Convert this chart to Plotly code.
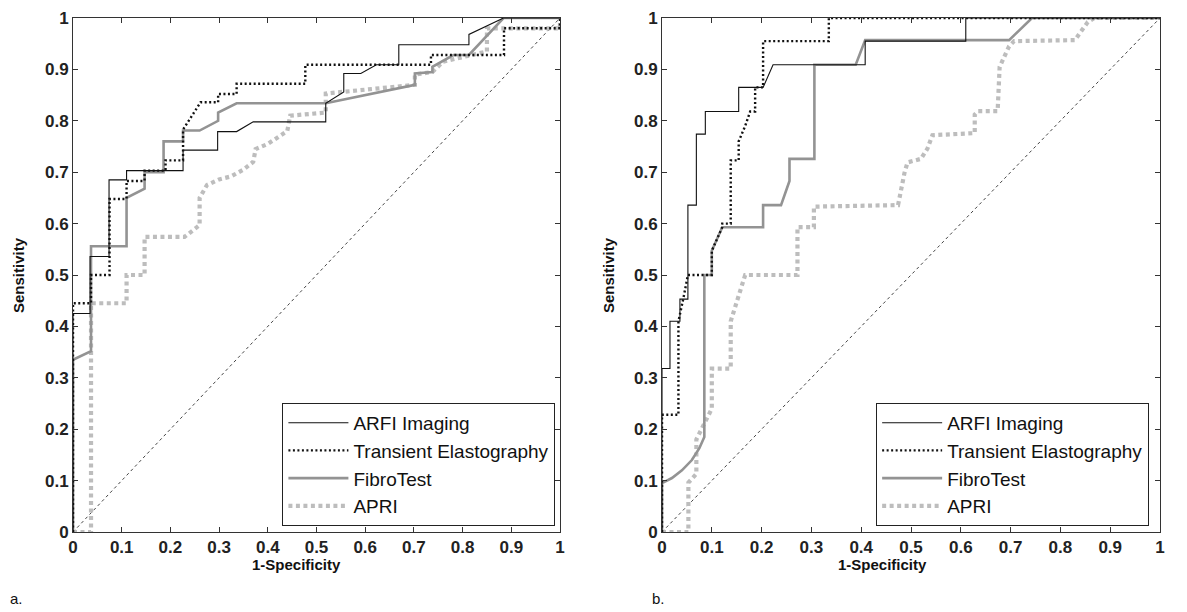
import plotly.graph_objects as go

# page body has an 8px margin, so the figure is drawn 8px smaller and all pixel positions are shifted by 8
OFF = 8
W, H = 1187 - OFF, 612 - OFF

# ---------------- data ----------------
series_names = ["ARFI Imaging", "Transient Elastography", "FibroTest", "APRI"]

# panel a
arfi_a_x = [0, 0, 0.035, 0.035, 0.074, 0.074, 0.11, 0.11, 0.226, 0.226, 0.297, 0.297, 0.336, 0.37, 0.519, 0.519,
            0.556, 0.556, 0.591, 0.623, 0.669, 0.669, 0.813, 0.813, 0.884, 1.0]
arfi_a_y = [0, 0.425, 0.425, 0.536, 0.536, 0.685, 0.685, 0.703, 0.703, 0.743, 0.743, 0.779, 0.779, 0.798, 0.798, 0.834,
            0.856, 0.892, 0.892, 0.909, 0.909, 0.948, 0.948, 0.968, 1.0, 1.0]

te_a_x = [0, 0, 0.037, 0.037, 0.075, 0.075, 0.11, 0.11, 0.147, 0.147, 0.19, 0.19, 0.226, 0.226, 0.262, 0.298, 0.298,
          0.336, 0.336, 0.477, 0.477, 0.735, 0.735, 0.885, 0.885, 1.0, 1.0]
te_a_y = [0, 0.445, 0.445, 0.5, 0.5, 0.648, 0.648, 0.683, 0.683, 0.703, 0.703, 0.723, 0.723, 0.783, 0.836, 0.836, 0.852,
          0.852, 0.872, 0.872, 0.909, 0.909, 0.928, 0.928, 0.98, 0.98, 1.0]

ft_a_x = [0, 0, 0.037, 0.037, 0.11, 0.11, 0.147, 0.147, 0.186, 0.186, 0.226, 0.226, 0.26, 0.298, 0.298, 0.336, 0.519,
          0.702, 0.702, 0.738, 0.738, 0.781, 0.813, 0.884, 1.0]
ft_a_y = [0, 0.335, 0.352, 0.556, 0.556, 0.65, 0.668, 0.70, 0.70, 0.76, 0.76, 0.781, 0.781, 0.80, 0.816, 0.834, 0.834,
          0.870, 0.892, 0.895, 0.905, 0.928, 0.928, 1.0, 1.0]

apri_a_x = [0, 0.037, 0.037, 0.11, 0.11, 0.147, 0.147, 0.229, 0.26, 0.26, 0.275, 0.30, 0.325, 0.35, 0.37, 0.375, 0.40,
            0.425, 0.44, 0.446, 0.519, 0.519, 0.702, 0.702, 0.738, 0.76, 0.813, 0.85, 0.85, 1.0, 1.0]
apri_a_y = [0, 0, 0.445, 0.445, 0.5, 0.5, 0.574, 0.574, 0.597, 0.65, 0.675, 0.686, 0.692, 0.705, 0.72, 0.745, 0.755,
            0.77, 0.78, 0.81, 0.816, 0.853, 0.87, 0.89, 0.895, 0.915, 0.928, 0.935, 0.98, 0.98, 1.0]

# panel b
arfi_b_x = [0, 0, 0.016, 0.016, 0.036, 0.036, 0.052, 0.052, 0.069, 0.069, 0.087, 0.087, 0.154, 0.154, 0.203, 0.223,
            0.408, 0.408, 0.61, 0.61, 1.0]
arfi_b_y = [0, 0.318, 0.318, 0.41, 0.41, 0.453, 0.453, 0.636, 0.636, 0.774, 0.774, 0.818, 0.818, 0.865, 0.865, 0.909,
            0.909, 0.955, 0.955, 1.0, 1.0]

te_b_x = [0, 0, 0.033, 0.033, 0.043, 0.052, 0.077, 0.1, 0.1, 0.121, 0.121, 0.138, 0.138, 0.154, 0.154, 0.167, 0.177,
          0.187, 0.187, 0.203, 0.203, 0.335, 0.335, 1.0]
te_b_y = [0, 0.228, 0.228, 0.41, 0.455, 0.5, 0.5, 0.5, 0.547, 0.593, 0.6, 0.6, 0.723, 0.723, 0.76, 0.79, 0.818, 0.818,
          0.865, 0.865, 0.955, 0.955, 1.0, 1.0]

ft_b_x = [0, 0, 0.02, 0.04, 0.06, 0.075, 0.085, 0.085, 0.1, 0.1, 0.121, 0.203, 0.203, 0.239, 0.256, 0.256, 0.306, 0.306,
          0.389, 0.408, 0.697, 0.743, 1.0]
ft_b_y = [0, 0.095, 0.105, 0.12, 0.14, 0.163, 0.185, 0.5, 0.5, 0.547, 0.593, 0.593, 0.636, 0.636, 0.683, 0.726, 0.726,
          0.909, 0.909, 0.957, 0.957, 1.0, 1.0]

apri_b_x = [0, 0.053, 0.053, 0.069, 0.069, 0.092, 0.1, 0.1, 0.138, 0.138, 0.154, 0.167, 0.272, 0.272, 0.305, 0.305,
            0.474, 0.48, 0.487, 0.493, 0.52, 0.533, 0.543, 0.628, 0.628, 0.635, 0.674, 0.678, 0.697, 0.707, 0.829,
            0.855, 0.868, 1.0]
apri_b_y = [0, 0, 0.096, 0.113, 0.18, 0.228, 0.24, 0.318, 0.318, 0.41, 0.457, 0.5, 0.5, 0.593, 0.593, 0.633, 0.636,
            0.666, 0.699, 0.719, 0.726, 0.746, 0.772, 0.776, 0.812, 0.819, 0.819, 0.905, 0.945, 0.955, 0.957, 0.992,
            1.0, 1.0]

chance_x = [0, 1]
chance_y = [0, 1]

tick_vals = [0, 0.1, 0.2, 0.3, 0.4, 0.5, 0.6, 0.7, 0.8, 0.9, 1]
tick_text = ["0", "0.1", "0.2", "0.3", "0.4", "0.5", "0.6", "0.7", "0.8", "0.9", "1"]
x_title = "1-Specificity"
y_title = "Sensitivity"
panel_labels = ["a.", "b."]

# ---------------- styling ----------------
styles = {
    "ARFI Imaging": dict(color="#111111", width=1.1, dash="solid"),
    "Transient Elastography": dict(color="#111111", width=2.4, dash="2px,2.5px"),
    "FibroTest": dict(color="#939393", width=2.6, dash="solid"),
    "APRI": dict(color="#bdbdbd", width=4.2, dash="4px,3.5px"),
}
draw_order = ["APRI", "FibroTest", "Transient Elastography", "ARFI Imaging"]


def px_x(p):
    return (p - OFF) / W


def px_y(p):
    return 1 - (p - OFF) / H


panels = [
    dict(data={"ARFI Imaging": (arfi_a_x, arfi_a_y), "Transient Elastography": (te_a_x, te_a_y),
               "FibroTest": (ft_a_x, ft_a_y), "APRI": (apri_a_x, apri_a_y)},
         xaxis="x", yaxis="y", legend="legend", xdom=[px_x(73), px_x(560)],
         ytitle_x=18, xtitle_x=296, label_x=8),
    dict(data={"ARFI Imaging": (arfi_b_x, arfi_b_y), "Transient Elastography": (te_b_x, te_b_y),
               "FibroTest": (ft_b_x, ft_b_y), "APRI": (apri_b_x, apri_b_y)},
         xaxis="x2", yaxis="y2", legend="legend2", xdom=[px_x(662), px_x(1160)],
         ytitle_x=608, xtitle_x=882, label_x=650),
]
ydom = [px_y(532), px_y(18)]

FONT = "Liberation Sans, Arial, sans-serif"

fig = go.Figure()
for p in panels:
    fig.add_trace(go.Scatter(x=chance_x, y=chance_y, mode="lines", showlegend=False, hoverinfo="skip",
                             line=dict(color="#444444", width=1, dash="3px,3px"),
                             xaxis=p["xaxis"], yaxis=p["yaxis"]))
    for name in draw_order:
        xs, ys = p["data"][name]
        fig.add_trace(go.Scatter(x=xs, y=ys, mode="lines", name=name, line=styles[name],
                                 legend=p["legend"], legendrank=series_names.index(name) + 1,
                                 legendgroup=name,
                                 xaxis=p["xaxis"], yaxis=p["yaxis"]))

axis_common = dict(range=[0, 1], tickmode="array", tickvals=tick_vals, ticktext=tick_text,
                   ticks="inside", ticklen=5, tickcolor="#333333", showline=True, linecolor="#333333",
                   linewidth=1, mirror="ticks", showgrid=False, zeroline=False, automargin=False,
                   tickfont=dict(family=FONT, size=17, color="#222222", weight="bold"))

layout = dict(width=W, height=H, margin=dict(l=0, r=0, t=0, b=0, autoexpand=False),
              paper_bgcolor="white", plot_bgcolor="white", showlegend=True)
for i, p in enumerate(panels):
    sfx = "" if i == 0 else str(i + 1)
    layout["xaxis" + sfx] = dict(axis_common, domain=p["xdom"], anchor="y" + sfx)
    layout["yaxis" + sfx] = dict(axis_common, domain=ydom, anchor="x" + sfx)
    xd = p["xdom"]
    layout[p["legend"]] = dict(
        x=xd[0] + 0.43 * (xd[1] - xd[0]), y=ydom[0] + 0.012 * (ydom[1] - ydom[0]),
        xanchor="left", yanchor="bottom", bgcolor="white", bordercolor="#222222", borderwidth=1,
        font=dict(family=FONT, size=19, color="#111111"), itemwidth=60, tracegroupgap=3,
        traceorder="normal", itemclick=False, itemdoubleclick=False)

fig.update_layout(**layout)

for i, p in enumerate(panels):
    fig.add_annotation(text=y_title, x=px_x(p["ytitle_x"]), y=px_y(275), xref="paper", yref="paper",
                       showarrow=False, textangle=-90, xanchor="center", yanchor="middle",
                       font=dict(family=FONT, size=15, color="#111111", weight="bold"))
    fig.add_annotation(text=x_title, x=px_x(p["xtitle_x"]), y=px_y(564), xref="paper", yref="paper",
                       showarrow=False, xanchor="center", yanchor="middle",
                       font=dict(family=FONT, size=15, color="#111111", weight="bold"))
    fig.add_annotation(text=panel_labels[i], x=px_x(p["label_x"]), y=px_y(598), xref="paper", yref="paper",
                       showarrow=False, xanchor="left", yanchor="middle",
                       font=dict(family=FONT, size=15, color="#111111"))

fig.write_html("out.html")
